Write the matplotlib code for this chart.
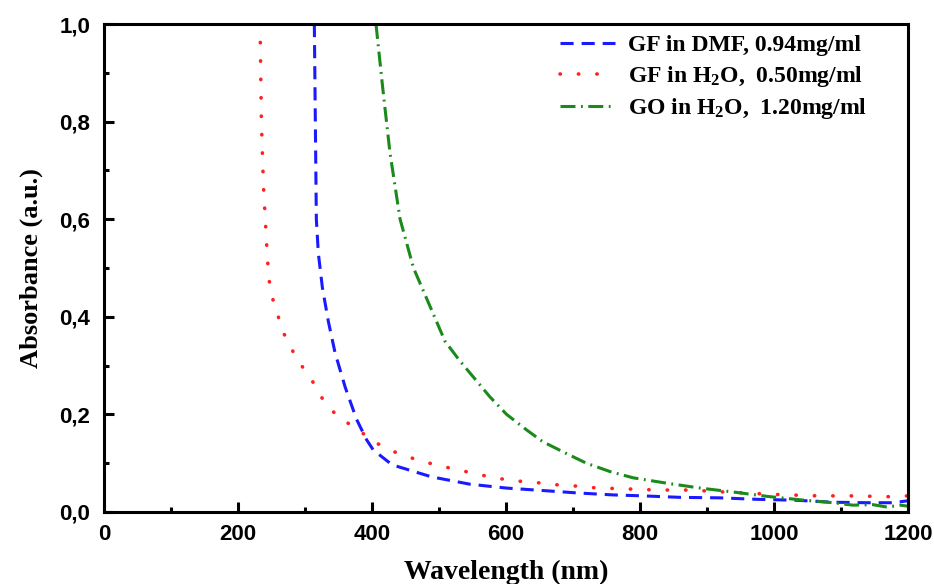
# UV-Vis absorbance spectra of graphene flakes (GF) and graphene oxide (GO)

import matplotlib
matplotlib.use("Agg")
import matplotlib.pyplot as plt
from matplotlib.ticker import MultipleLocator, FuncFormatter

# ---------------------------------------------------------
# DATA
# ---------------------------------------------------------

gf_dmf_nm = [314, 316, 317, 320, 326, 335, 345, 360, 377, 392, 402, 427, 434,
             489, 546, 601, 655, 707, 760, 805, 860, 919, 974, 1034, 1088,
             1138, 1178, 1200]
gf_dmf_abs = [1.0, 0.735, 0.60, 0.53, 0.46, 0.39, 0.326, 0.256, 0.19, 0.148,
              0.127, 0.10, 0.095, 0.072, 0.057, 0.049, 0.044, 0.039, 0.035,
              0.033, 0.030, 0.029, 0.026, 0.024, 0.020, 0.019, 0.019, 0.023]

gf_h2o_nm = [233, 235, 238, 244, 246, 250, 258, 267, 279, 295, 312, 327, 349,
             376, 404, 434, 467, 497, 546, 579, 611, 641, 673, 706, 738, 767,
             825, 874, 939, 1001, 1066, 1131, 1163, 1200]
gf_h2o_abs = [1.0, 0.80, 0.67, 0.52, 0.48, 0.445, 0.41, 0.37, 0.336, 0.30,
              0.266, 0.23, 0.195, 0.172, 0.143, 0.123, 0.107, 0.096, 0.081,
              0.071, 0.064, 0.061, 0.056, 0.053, 0.049, 0.048, 0.045, 0.045,
              0.040, 0.036, 0.033, 0.033, 0.031, 0.033]

go_h2o_nm = [406, 416, 427, 442, 462, 484, 509, 531, 576, 601, 631, 655, 690,
             720, 755, 790, 840, 890, 939, 990, 1039, 1088, 1118, 1148, 1169,
             1188, 1200]
go_h2o_abs = [1.0, 0.87, 0.735, 0.60, 0.50, 0.43, 0.35, 0.31, 0.236, 0.20,
              0.168, 0.144, 0.12, 0.10, 0.083, 0.07, 0.059, 0.049, 0.041,
              0.032, 0.025, 0.019, 0.014, 0.015, 0.010, 0.014, 0.012]

labels = [
    "GF in DMF, 0.94mg/ml",
    r"GF in H$_\mathbf{2}$O,  0.50mg/ml",
    r"GO in H$_\mathbf{2}$O,  1.20mg/ml",
]

# ---------------------------------------------------------
# STYLE
# ---------------------------------------------------------

plt.rcParams["mathtext.fontset"] = "custom"
plt.rcParams["mathtext.rm"] = "Liberation Serif:bold"
plt.rcParams["mathtext.bf"] = "Liberation Serif:bold"
plt.rcParams["mathtext.it"] = "Liberation Serif:bold"

fig = plt.figure(figsize=(9.34, 5.84), dpi=100)
ax = fig.add_axes([0.1113, 0.1233, 0.8608, 0.8356])

ax.plot(gf_dmf_nm, gf_dmf_abs, color="#1a1aff", lw=2.2, dashes=(4.3, 2.6),
        label=labels[0])
ax.plot(gf_h2o_nm, gf_h2o_abs, color="#ff2020", lw=2.6, dashes=(0.1, 5),
        dash_capstyle="round", label=labels[1])
ax.plot(go_h2o_nm, go_h2o_abs, color="#1a8a1a", lw=2.2,
        dashes=(4.9, 1.8, 0.6, 1.8), label=labels[2])

ax.set_xlim(0, 1200)
ax.set_ylim(0, 1.0)

ax.xaxis.set_major_locator(MultipleLocator(200))
ax.xaxis.set_minor_locator(MultipleLocator(100))
ax.yaxis.set_major_locator(MultipleLocator(0.2))
ax.yaxis.set_minor_locator(MultipleLocator(0.1))
ax.yaxis.set_major_formatter(
    FuncFormatter(lambda v, p: f"{v:.1f}".replace(".", ",")))

for s in ax.spines.values():
    s.set_linewidth(2.2)

ax.tick_params(which="major", direction="in", length=7, width=2.2,
               top=False, right=False)
ax.tick_params(axis="y", which="major", pad=10)
ax.tick_params(axis="x", which="major", pad=9)
ax.tick_params(which="minor", direction="in", length=3.5, width=2.2,
               top=False, right=False)

for t in ax.get_xticklabels() + ax.get_yticklabels():
    t.set_fontfamily("Liberation Sans")
    t.set_fontweight("bold")
    t.set_fontsize(16)

ax.set_xlabel("Wavelength (nm)", fontfamily="Liberation Serif",
              fontweight="bold", fontsize=20, labelpad=10)
ax.set_ylabel("Absorbance (a.u.)", fontfamily="Liberation Serif",
              fontweight="bold", fontsize=19, labelpad=12)

ax.legend(loc="upper left", bbox_to_anchor=(0.567, 0.978), frameon=False,
          borderaxespad=0, borderpad=0,
          prop={"family": "Liberation Serif", "weight": "bold", "size": 17},
          handlelength=2.35, handletextpad=0.55, labelspacing=0.32)

fig.savefig("out.png", dpi=100)
